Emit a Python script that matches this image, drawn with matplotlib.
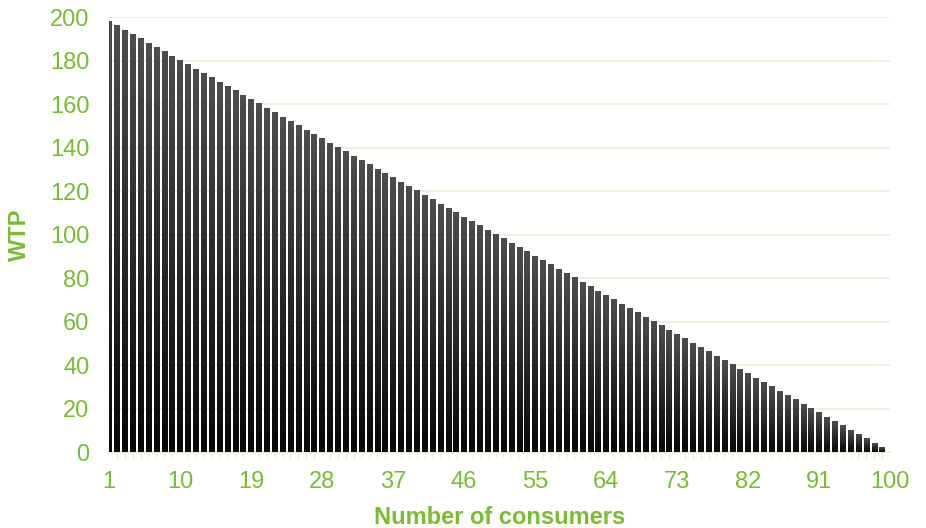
import numpy as np
import matplotlib
matplotlib.use("Agg")
import matplotlib.pyplot as plt
from matplotlib.ticker import FixedLocator

plt.rcParams['font.family'] = ['Liberation Sans', 'DejaVu Sans']

# willingness to pay of each consumer, highest first
consumers = list(range(1, 101))
wtp = [198, 196, 194, 192, 190, 188, 186, 184, 182, 180,
       178, 176, 174, 172, 170, 168, 166, 164, 162, 160,
       158, 156, 154, 152, 150, 148, 146, 144, 142, 140,
       138, 136, 134, 132, 130, 128, 126, 124, 122, 120,
       118, 116, 114, 112, 110, 108, 106, 104, 102, 100,
       98, 96, 94, 92, 90, 88, 86, 84, 82, 80,
       78, 76, 74, 72, 70, 68, 66, 64, 62, 60,
       58, 56, 54, 52, 50, 48, 46, 44, 42, 40,
       38, 36, 34, 32, 30, 28, 26, 24, 22, 20,
       18, 16, 14, 12, 10, 8, 6, 4, 2, 0]
x_labels = [1, 10, 19, 28, 37, 46, 55, 64, 73, 82, 91, 100]
y_ticks = [0, 20, 40, 60, 80, 100, 120, 140, 160, 180, 200]

GREEN = '#78BE2E'
PALE = '#E6F2D6'

fig = plt.figure(figsize=(9.26, 5.28), dpi=100)
ax = fig.add_axes([0.1177, 0.1439, 0.8434, 0.8239])

bars = ax.bar(consumers, wtp, width=0.66, color='#1a1a1a', zorder=2)

# gray at the top of each bar fading to black at its base
grad = np.linspace(0.03, 0.30, 64).reshape(-1, 1)
for b in bars:
    h = b.get_height()
    if h <= 0:
        continue
    im = ax.imshow(grad, cmap='gray', vmin=0, vmax=1, aspect='auto',
                   extent=(b.get_x(), b.get_x() + b.get_width(), 0, h),
                   origin='lower', zorder=3, interpolation='bilinear')
    im.set_clip_path(b)
    im.set_clip_box(ax.bbox)

ax.set_xlim(1, 100)
ax.set_ylim(0, 200)

ax.set_yticks(y_ticks)
ax.yaxis.grid(True, color=PALE, linewidth=1.2, zorder=0)
ax.set_axisbelow(True)

ax.set_xticks(x_labels)
ax.xaxis.set_minor_locator(FixedLocator(consumers))
ax.tick_params(axis='x', which='major', length=0, pad=14, labelsize=17, labelcolor=GREEN)
ax.tick_params(axis='x', which='minor', length=4.5, width=1, color=PALE, direction='out')
ax.tick_params(axis='y', length=0, pad=14, labelsize=17, labelcolor=GREEN)

for side in ['top', 'right', 'left']:
    ax.spines[side].set_visible(False)
ax.spines['bottom'].set_color(PALE)
ax.spines['bottom'].set_linewidth(1.2)

ax.set_xlabel('Number of consumers', fontsize=17, fontweight='bold', color=GREEN, labelpad=9)
ax.set_ylabel('WTP', fontsize=17, fontweight='bold', color=GREEN, labelpad=14)

fig.savefig('out.png', dpi=100)
